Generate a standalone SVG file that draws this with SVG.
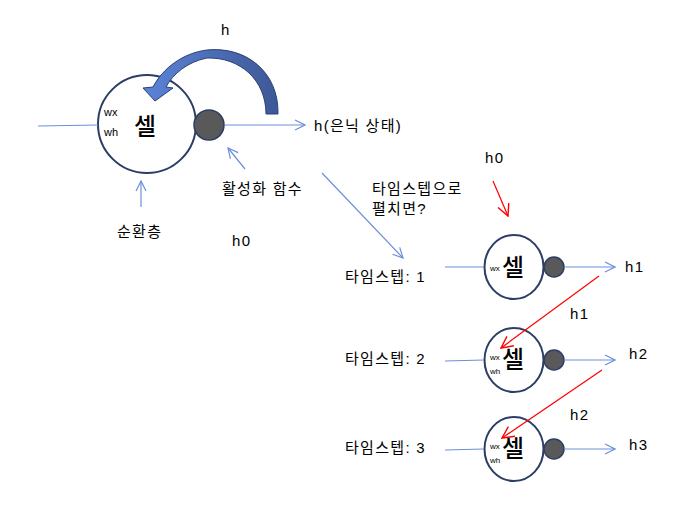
<svg xmlns="http://www.w3.org/2000/svg" width="687" height="515" viewBox="0 0 687 515">
<defs>
<linearGradient id="g" x1="0" y1="0" x2="1" y2="0">
<stop offset="0" stop-color="#5b84d8"/>
<stop offset="1" stop-color="#3e5896"/>
</linearGradient>
<marker id="ab" viewBox="0 0 12 12" refX="11" refY="6" markerWidth="12" markerHeight="12" markerUnits="userSpaceOnUse" orient="auto">
<path d="M1,1 L11,6 L1,11" fill="none" stroke="#6b8fdc" stroke-width="1.2"/>
</marker>
<marker id="ar" viewBox="0 0 12 12" refX="11" refY="6" markerWidth="14" markerHeight="14" markerUnits="userSpaceOnUse" orient="auto">
<path d="M1,1 L11,6 L1,11" fill="none" stroke="#ff0000" stroke-width="1.2"/>
</marker>
</defs>
<style>
text{font-family:"Liberation Sans","Noto Sans CJK KR",sans-serif;fill:#000}
.t{font-size:15px;letter-spacing:1.3px}
.s{font-size:11px}
.xs{font-size:8px}
.cl{font-size:24px;font-weight:500}
.c{fill:#fff;stroke:#2c3d66;stroke-width:2}
.d{fill:#595959;stroke:#2c3d66;stroke-width:1.5}
.b{stroke:#6b8fdc;stroke-width:1.2;fill:none}
.r{stroke:#ff0000;stroke-width:1.2;fill:none}
</style>
<rect width="687" height="515" fill="#fff"/>
<g id="cell-main">
<circle class="c" cx="147" cy="124" r="49"/>
<text class="s" x="104" y="116">wx</text>
<text class="s" x="104" y="136">wh</text>
<text class="cl" x="134" y="135">셀</text>
<circle class="d" cx="209" cy="125" r="15"/>
</g>
<g id="loop-arrow">
<path d="M278,114 C279,72 246,46 207,50 C183,53 163,68 153,87 L143,88 L155,101 L173,88 L166,87 C173,74 187,62 207,58 C240,57 266,80 266,114 Z" fill="url(#g)" stroke="#2b4174" stroke-width="1"/>
<text class="t" x="221" y="35">h</text>
</g>
<g id="labels-main">
<text class="t" x="314" y="131">h(은닉 상태)</text>
<text class="t" x="222" y="194">활성화 함수</text>
<text class="t" x="117" y="237">순환층</text>
<text class="t" x="232" y="246">h0</text>
<text class="t" x="372" y="194">타임스텝으로</text>
<text class="t" x="372" y="214">펼치면?</text>
<text class="t" x="485" y="163">h0</text>
</g>
<g id="cell-1">
<ellipse class="c" cx="514" cy="267" rx="29.5" ry="32"/>
<text class="xs" x="490" y="271">wx</text>
<text class="cl" x="502" y="276">셀</text>
<circle class="d" cx="554" cy="267" r="10"/>
<text class="t" x="345" y="282">타임스텝: 1</text>
<text class="t" x="625" y="272">h1</text>
</g>
<g id="cell-2">
<ellipse class="c" cx="514" cy="360" rx="29.5" ry="32"/>
<text class="xs" x="490" y="360">wx</text>
<text class="xs" x="490" y="374">wh</text>
<text class="cl" x="502" y="368">셀</text>
<circle class="d" cx="554" cy="360" r="10"/>
<text class="t" x="345" y="364">타임스텝: 2</text>
<text class="t" x="570" y="319">h1</text>
<text class="t" x="629" y="359">h2</text>
</g>
<g id="cell-3">
<ellipse class="c" cx="514" cy="449" rx="29.5" ry="32"/>
<text class="xs" x="490" y="449">wx</text>
<text class="xs" x="490" y="463">wh</text>
<text class="cl" x="502" y="457">셀</text>
<circle class="d" cx="554" cy="449" r="10"/>
<text class="t" x="345" y="453">타임스텝: 3</text>
<text class="t" x="570" y="420">h2</text>
<text class="t" x="629" y="450">h3</text>
</g>
<g id="connectors">
<line class="b" x1="38" y1="126" x2="98" y2="125"/>
<line class="b" x1="225" y1="125" x2="305" y2="125" marker-end="url(#ab)"/>
<line class="b" x1="245" y1="169" x2="228" y2="148" marker-end="url(#ab)"/>
<line class="b" x1="141" y1="207" x2="141" y2="181" marker-end="url(#ab)"/>
<line class="b" x1="322" y1="173" x2="403" y2="258" marker-end="url(#ab)"/>
<line class="r" x1="493" y1="181" x2="508" y2="216" marker-end="url(#ar)"/>
<line class="b" x1="445" y1="267" x2="484" y2="267"/>
<line class="b" x1="564" y1="267" x2="615" y2="267" marker-end="url(#ab)"/>
<line class="b" x1="445" y1="361" x2="484" y2="360"/>
<line class="b" x1="564" y1="360" x2="615" y2="360" marker-end="url(#ab)"/>
<line class="b" x1="445" y1="450" x2="484" y2="449"/>
<line class="b" x1="564" y1="449" x2="615" y2="449" marker-end="url(#ab)"/>
<line class="r" x1="599" y1="276" x2="501" y2="348" marker-end="url(#ar)"/>
<line class="r" x1="602" y1="370" x2="502" y2="438" marker-end="url(#ar)"/>
</g>
</svg>
